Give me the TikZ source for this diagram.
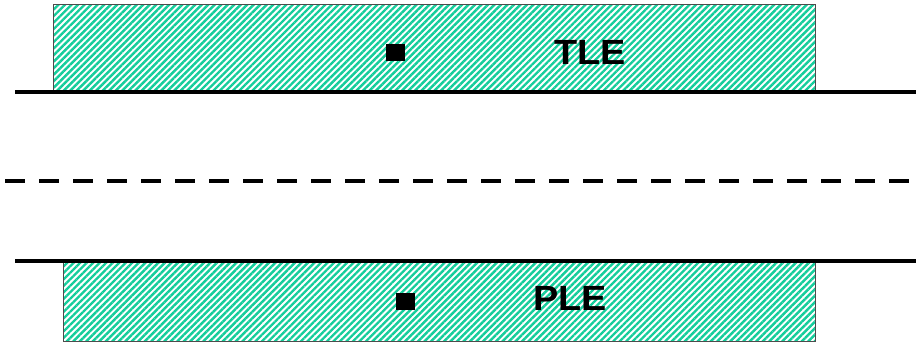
\documentclass[tikz,border=0pt]{standalone}
\usepackage{fontspec}
\setmainfont{Liberation Sans}
\usetikzlibrary{patterns.meta}
\definecolor{hatchgreen}{RGB}{20,205,155}
\tikzset{
  layer/.style={draw=black!70, line width=0.8pt, fill=white,
    pattern={Lines[angle=45,distance=4.6pt,line width=2.4pt]}, pattern color=hatchgreen},
  wall/.style={line width=3.8pt},
  mid/.style={line width=3.8pt, dash pattern=on 20pt off 14pt},
  marker/.style={fill=black, minimum width=19pt, minimum height=17pt, inner sep=0pt},
  lbl/.style={font=\bfseries\fontsize{35}{35}\selectfont, xscale=1.08, inner sep=0pt}
}
\begin{document}
\begin{tikzpicture}[x=1pt,y=-1pt]
\useasboundingbox (0,0) rectangle (916,343);
\fill[white] (0,0) rectangle (916,343);
\draw[layer] (53,4) rectangle (815,92);
\draw[layer] (63,261) rectangle (815,341);
\coordinate (tl) at (15,92); \coordinate (tr) at (916,92);
\coordinate (bl) at (15,261); \coordinate (br) at (916,261);
\coordinate (ml) at (5,181); \coordinate (mr) at (916,181);
\draw[wall] (tl) -- (tr);
\draw[wall] (bl) -- (br);
\draw[mid] (ml) -- (mr);
\node[marker] (m1) at (395.5,52.5) {};
\node[marker] (m2) at (405,301.5) {};
\node[lbl] (tle) at (590,52.5) {TLE};
\node[lbl] (ple) at (570,298) {PLE};
\end{tikzpicture}
\end{document}
